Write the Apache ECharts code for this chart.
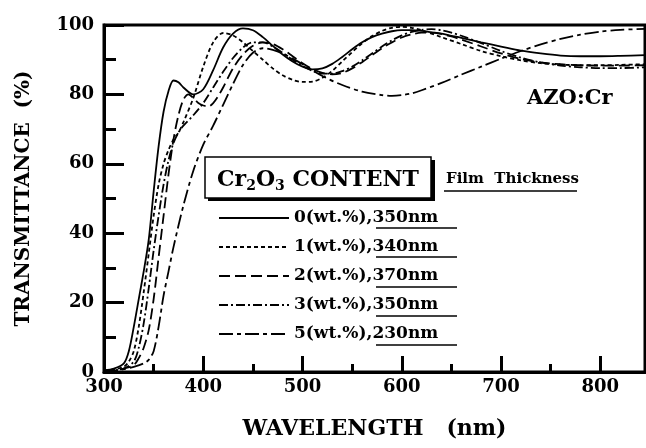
<!DOCTYPE html>
<html>
<head>
<meta charset="utf-8">
<script src="https://cdn.jsdelivr.net/npm/echarts@6/dist/echarts.min.js"></script>
<style>
  html, body { margin: 0; padding: 0; background: #fff; }
  #main { width: 646px; height: 448px; }
</style>
</head>
<body>
<div id="main"></div>
<script>
// transmittance (%) vs wavelength (nm), one pair of arrays per film
var names = ['0(wt.%),350nm', '1(wt.%),340nm', '2(wt.%),370nm', '3(wt.%),350nm', '5(wt.%),230nm'];

var wl0 = [300,310,320,325,330,335,340,345,350,355,360,365,370,375,380,390,400,410,420,430,440,450,460,470,480,490,500,510,520,530,540,550,560,570,580,590,600,610,620,630,640,650,660,680,700,720,740,760,780,800,820,845];
var t0  = [0.5,1,2.5,6,13,21,29,38,52,65,75,81,84,83.5,82,80,81.5,87,93.5,97.5,99,98.5,96.5,94,91.5,89.5,88,87.2,87.5,88.8,90.8,93,95,96.5,97.5,98.2,98.5,98.5,98.3,97.9,97.5,96.9,96.3,95,93.8,92.6,91.8,91.2,91,91,91.1,91.3];

var wl1 = [300,310,320,325,330,335,340,345,350,355,360,365,370,375,380,390,400,410,420,430,440,450,460,470,480,490,500,510,520,530,540,550,560,570,580,590,600,610,620,640,660,680,700,720,740,760,780,800,820,845];
var t1  = [0.3,0.8,1.5,3,6,13,23,34,45,54,60,64,67,69,72,79,88,95,97.7,97,95,92.5,90,87.5,85.5,84.2,83.6,83.7,84.8,86.8,89.5,92.2,94.7,96.8,98.3,99.2,99.5,99.2,98.5,96.5,94.5,92.5,91,89.8,89,88.6,88.4,88.4,88.5,88.7];

var wl2 = [300,310,320,330,335,340,345,350,355,360,365,370,375,380,385,390,395,400,405,410,415,420,430,440,450,460,470,480,490,500,510,520,530,540,550,560,570,580,590,600,610,620,630,640,650,660,680,700,720,740,760,780,800,820,845];
var t2  = [0.2,0.5,1,2,4,7,12,21,33,45,57,67,74,78.5,80,79,77.5,76.8,76.5,77.5,79.5,82,87.5,91.5,94,95,94.5,93,91,89,87.3,86.2,85.8,86.2,87.5,89.3,91.3,93.3,95,96.4,97.3,97.8,97.8,97.4,96.7,95.8,93.8,91.8,90.2,89.2,88.7,88.4,88.3,88.3,88.4];

var wl3 = [300,310,320,330,335,340,345,350,355,360,365,370,375,380,390,400,410,420,430,440,450,460,470,480,490,500,510,520,530,540,550,560,570,580,590,600,610,620,630,640,650,660,680,700,720,740,760,780,800,820,845];
var t3  = [0.2,0.5,1,3,7,14,24,35,45,54,61,66,69,71,74,77.5,82,86.5,90.5,93.5,95,95,93.8,92,90,88.2,86.8,86,86,86.7,88,89.8,91.8,93.8,95.6,97,98,98.6,98.8,98.5,97.8,96.9,94.8,92.5,90.6,89.2,88.3,87.8,87.6,87.6,87.8];

var wl4 = [300,310,320,330,340,345,350,355,360,365,370,380,390,400,410,420,430,440,450,460,470,480,490,500,520,540,560,580,590,600,610,620,640,660,680,700,720,740,760,780,800,820,845];
var t4  = [0.2,0.4,0.8,1.5,2.5,3.5,6,13,22,29,36,48,58,65.5,71,77,83,88.5,92,93.3,92.8,91.8,90.3,88.7,85.3,82.7,80.8,79.8,79.6,79.8,80.3,81.2,83.3,85.7,88,90.3,92.5,94.4,96,97.2,98.1,98.6,98.9];

var dashes = ['solid', [4, 3], [11, 5], [9, 3, 2, 3], [14, 4, 4, 4]];
var waves = [wl0, wl1, wl2, wl3, wl4];
var trans = [t0, t1, t2, t3, t4];

var FONT = 'DejaVu Serif';

function pairs(xs, ys) {
    var out = [];
    for (var i = 0; i < xs.length; i++) out.push([xs[i], ys[i]]);
    return out;
}

var series = names.map(function (n, i) {
    return {
        name: n,
        type: 'line',
        xAxisIndex: 0,
        symbol: 'none',
        smooth: 0.3,
        itemStyle: { color: '#000' },
        lineStyle: { color: '#000', width: 1.8, type: dashes[i] },
        data: pairs(waves[i], trans[i])
    };
});

var chart = echarts.init(document.getElementById('main'));
var boldText = { fontFamily: FONT, fontWeight: 'bold', color: '#000' };

chart.setOption({
    animation: false,
    backgroundColor: '#fff',
    grid: { left: 104, right: 1, top: 25, bottom: 76, show: true, borderColor: '#000', borderWidth: 3 },
    xAxis: [
        {
            type: 'value', min: 300, max: 845, interval: 100, position: 'bottom',
            axisLine: { lineStyle: { color: '#000', width: 3 } },
            axisTick: { inside: true, length: 16, lineStyle: { color: '#000', width: 3 } },
            axisLabel: Object.assign({ fontSize: 18, margin: 6, showMaxLabel: false }, boldText),
            splitLine: { show: false },
            name: 'WAVELENGTH   (nm)', nameLocation: 'middle', nameGap: 46,
            nameTextStyle: Object.assign({ fontSize: 22 }, boldText)
        },
        {
            // minor ticks every 50 nm
            type: 'value', min: 300, max: 845, interval: 50, position: 'bottom',
            axisLine: { show: false },
            axisTick: { inside: true, length: 8, lineStyle: { color: '#000', width: 3 } },
            axisLabel: { show: false },
            splitLine: { show: false }
        }
    ],
    yAxis: {
        type: 'value', min: 0, max: 100, interval: 20,
        axisLine: { show: true, lineStyle: { color: '#000', width: 3 } },
        axisTick: { inside: true, length: 20, lineStyle: { color: '#000', width: 3 } },
        minorTick: { show: true, splitNumber: 2, length: 12, lineStyle: { color: '#000', width: 3 } },
        axisLabel: Object.assign({ fontSize: 18, margin: 10 }, boldText),
        splitLine: { show: false },
        name: 'TRANSMITTANCE  (%)', nameLocation: 'middle', nameGap: 70,
        nameTextStyle: Object.assign({ fontSize: 20 }, boldText)
    },
    legend: {
        orient: 'vertical', left: 218, top: 208, padding: 0,
        itemWidth: 70, itemHeight: 14, itemGap: 9,
        itemStyle: { opacity: 0 },
        textStyle: Object.assign({ fontSize: 17, lineHeight: 20 }, boldText),
        data: names
    },
    graphic: [
        { type: 'text', left: 527, top: 88, style: { text: 'AZO:Cr', fontFamily: FONT, fontWeight: 'bold', fontSize: 21, fill: '#000' } },
        { type: 'rect', shape: { x: 208, y: 160, width: 227, height: 41 }, style: { fill: '#000' } },
        { type: 'rect', shape: { x: 205, y: 157, width: 226, height: 41 }, style: { fill: '#fff', stroke: '#000', lineWidth: 1.5 } },
        {
            type: 'text', x: 318, y: 181,
            style: {
                text: '{t|Cr}{s|2}{t|O}{s|3}{t| CONTENT}',
                align: 'center', verticalAlign: 'middle',
                rich: {
                    t: { fontFamily: FONT, fontWeight: 'bold', fontSize: 22, fill: '#000', lineHeight: 24, verticalAlign: 'top', padding: [0, 0, 7, 0] },
                    s: { fontFamily: FONT, fontWeight: 'bold', fontSize: 14, fill: '#000', lineHeight: 14, verticalAlign: 'bottom' }
                }
            }
        },
        { type: 'text', left: 446, top: 172, style: { text: 'Film  Thickness', fontFamily: FONT, fontWeight: 'bold', fontSize: 15, fill: '#000' } },
        { type: 'line', shape: { x1: 444, y1: 191, x2: 577, y2: 191 }, style: { stroke: '#000', lineWidth: 1.5 } },
        { type: 'line', shape: { x1: 376, y1: 228, x2: 457, y2: 228 }, style: { stroke: '#000', lineWidth: 1.5 } },
        { type: 'line', shape: { x1: 376, y1: 257, x2: 457, y2: 257 }, style: { stroke: '#000', lineWidth: 1.5 } },
        { type: 'line', shape: { x1: 376, y1: 287, x2: 457, y2: 287 }, style: { stroke: '#000', lineWidth: 1.5 } },
        { type: 'line', shape: { x1: 376, y1: 316, x2: 457, y2: 316 }, style: { stroke: '#000', lineWidth: 1.5 } },
        { type: 'line', shape: { x1: 376, y1: 345, x2: 457, y2: 345 }, style: { stroke: '#000', lineWidth: 1.5 } }
    ],
    series: series
});
</script>
</body>
</html>
